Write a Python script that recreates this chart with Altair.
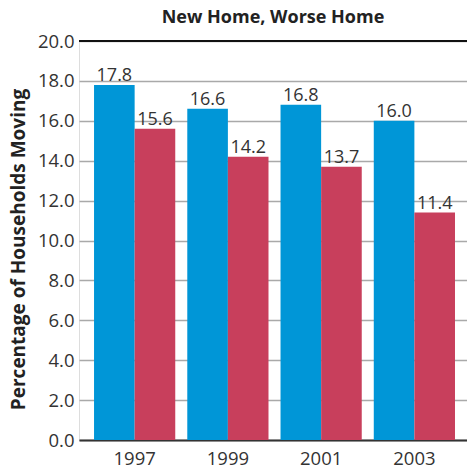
import altair as alt
import pandas as pd

years = ["1997", "1999", "2001", "2003"]
series_names = ["Series A", "Series B"]
series_a = [17.8, 16.6, 16.8, 16.0]
series_b = [15.6, 14.2, 13.7, 11.4]
y_ticks = [0, 2, 4, 6, 8, 10, 12, 14, 16, 18, 20]
colors = ["#0096d7", "#c83f5c"]

rows = []
for i, yr in enumerate(years):
    rows.append({"year": yr, "series": series_names[0], "value": series_a[i]})
    rows.append({"year": yr, "series": series_names[1], "value": series_b[i]})
df = pd.DataFrame(rows)

FONT = "Open Sans"

x = alt.X(
    "year:N", sort=years, title=None,
    scale=alt.Scale(paddingInner=0.129, paddingOuter=0.145, align=0.556),
    axis=alt.Axis(labelAngle=0, labelFontSize=18.5, labelColor="#333333", labelFont=FONT,
                  ticks=False, domainColor="#333333", domainWidth=2, labelPadding=9, grid=False),
)
xo = alt.XOffset("series:N", sort=series_names, scale=alt.Scale(paddingInner=0, paddingOuter=0))
y = alt.Y(
    "value:Q", scale=alt.Scale(domain=[0, 20], nice=False),
    axis=alt.Axis(values=y_ticks, format=".1f", domain=False, ticks=False, labelOverlap=False,
                  gridColor="#a9a9a9", gridWidth=1.5, labelPadding=5, labelFontSize=18.5,
                  labelColor="#333333", labelFont=FONT,
                  title="Percentage of Households Moving", titleFont=FONT, titleFontSize=19,
                  titleFontWeight="bold", titleColor="#222222", titleX=-61, titleY=208,
                  titleAngle=270, titleAlign="center", titleBaseline="middle"),
)

bars = alt.Chart(df).mark_bar().encode(
    x=x, xOffset=xo, y=y,
    color=alt.Color("series:N", sort=series_names, scale=alt.Scale(domain=series_names, range=colors), legend=None),
)
labels = alt.Chart(df).mark_text(baseline="alphabetic", dy=-4, fontSize=18, color="#333333", font=FONT).encode(
    x=x, xOffset=xo, y=y, text=alt.Text("value:Q", format=".1f"),
)
top_rule = alt.Chart(pd.DataFrame({"value": [y_ticks[-1]]})).mark_rule(color="#111111", strokeWidth=2).encode(
    y=y
)

chart = alt.layer(bars, labels, top_rule).properties(
    width=388, height=399,
    autosize=alt.AutoSizeParams(type="none"),
    padding={"left": 71, "top": 33, "right": 0, "bottom": 26},
    title=alt.TitleParams("New Home, Worse Home", fontSize=18, fontWeight="bold", font=FONT,
                          anchor="middle", frame="group", color="#222222", offset=5),
).configure_view(fill="#dcdde0", strokeWidth=0).configure(background="white")

chart.save("out.html", embed_options={"renderer": "svg", "actions": False})
